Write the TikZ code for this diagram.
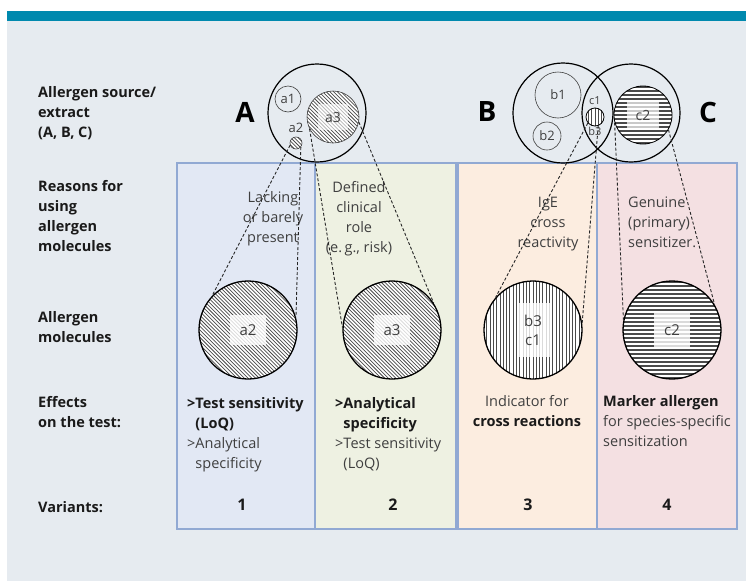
\documentclass[tikz,border=0pt]{standalone}
\usepackage{fontspec}
\setmainfont{Open Sans}

\definecolor{pageBg}{HTML}{E6EBF0}
\definecolor{barBlue}{HTML}{0089AE}
\definecolor{frameBlue}{HTML}{91A9D3}
\definecolor{varOne}{HTML}{E2E8F4}
\definecolor{varTwo}{HTML}{EEF1E2}
\definecolor{varThree}{HTML}{FCEDE0}
\definecolor{varFour}{HTML}{F4E0E2}
\definecolor{inkDark}{HTML}{1A1A1A}
\definecolor{inkGrey}{HTML}{3F3F3F}
\definecolor{hatchInk}{HTML}{4A4A4A}

\begin{document}
\begin{tikzpicture}
[x=1pt,y=-1pt,
  rowLabel/.style={anchor=north west,align=left,inner sep=0pt,text=inkDark,
    font=\bfseries\fontsize{14.5}{20}\selectfont},
  colText/.style={anchor=north,align=center,inner sep=0pt,text=inkGrey,
    font=\fontsize{14.5}{20}\selectfont},
  bigLetter/.style={inner sep=0pt,text=black,font=\bfseries\fontsize{28}{28}\selectfont},
  colFrame/.style={draw=frameBlue,line width=1.1pt},
  outerRing/.style={shape=circle,draw=black,line width=1.2pt,inner sep=0pt,minimum size=98pt},
  thinRing/.style={shape=circle,draw=inkGrey,line width=0.6pt,inner sep=0pt,text=inkGrey,
    font=\fontsize{13}{13}\selectfont},
  %% stripes are drawn inside each circle and clipped by it
  hatchDiag/.style={shape=circle,draw=inkGrey,line width=0.6pt,inner sep=0pt,fill=white,
    path picture={\foreach \k in {-30,...,30}
      \draw[hatchInk,line width=0.75pt]
        ([shift={(-80pt,80pt+\k*3.7pt)}]path picture bounding box.center) --
        ([shift={(80pt,-80pt+\k*3.7pt)}]path picture bounding box.center);}},
  hatchVert/.style={shape=circle,draw=black,line width=0.8pt,inner sep=0pt,fill=white,
    path picture={\foreach \k in {-20,...,20}
      \draw[hatchInk,line width=1pt]
        ([shift={(\k*3.3pt,-60pt)}]path picture bounding box.center) --
        ([shift={(\k*3.3pt,60pt)}]path picture bounding box.center);}},
  hatchHoriz/.style={shape=circle,draw=black,line width=0.8pt,inner sep=0pt,fill=white,
    path picture={\foreach \k in {-16,...,16}
      \draw[hatchInk,line width=1.3pt]
        ([shift={(-60pt,\k*4pt)}]path picture bounding box.center) --
        ([shift={(60pt,\k*4pt)}]path picture bounding box.center);}},
  moleculeRing/.style={line width=1.3pt,draw=black,minimum size=98pt},
  labelBox/.style={fill=white,fill opacity=0.8,text opacity=1,text=inkGrey,inner sep=0pt,
    minimum width=36pt,minimum height=30pt,align=center,font=\fontsize{15}{19}\selectfont},
  tinyText/.style={inner sep=0pt,text=inkGrey,font=\fontsize{11}{11}\selectfont},
  dashLine/.style={-,draw=black!85,line width=0.9pt,dash pattern=on 3pt off 2pt}]
\useasboundingbox (0,0) rectangle (746,581);
%% page and header bar
\fill[white] (0,0) rectangle (746,581);
\fill[pageBg] (7,21) rectangle (746,581);
\fill[barBlue] (7,11) rectangle (746,21);

%% columns of the four variants
\foreach \xa/\xb/\shade in {
  177/315/varOne, 315/456/varTwo, 458/597/varThree, 597/737/varFour}
{
  \draw[colFrame,fill=\shade] (\xa,163) rectangle (\xb,529);
}

%% row labels
\node (rowSource) at (38,86) [rowLabel] {Allergen source/\\extract\\(A, B, C)};
\node (rowReasons) at (38,180) [rowLabel] {Reasons for\\using\\allergen\\molecules};
\node (rowMolecules) at (38,311) [rowLabel] {Allergen\\molecules};
\node (rowEffects) at (38,396) [rowLabel] {Effects\\on the test:};
\node (rowVariants) at (38,501) [rowLabel] {Variants:};

%% allergen sources
\node (letA) at (245,112) [bigLetter] {A};
\node (letB) at (487,112) [bigLetter] {B};
\node (letC) at (708,112) [bigLetter] {C};
\node (srcA) at (317,113) [outerRing] {};
\node (srcB) at (563,113) [outerRing,minimum size=100pt] {};
\node (srcC) at (631,113) [outerRing] {};

\node (a1) at (288,99) [thinRing,minimum size=26pt] {a1};
\node (a3s) at (333,117) [hatchDiag,minimum size=52pt] {};
\node (a3sLbl) at (a3s) [labelBox,minimum width=30pt,minimum height=26pt,fill opacity=0.6,
  font=\fontsize{14}{14}\selectfont] {a3};
\node (a2s) at (296,143) [hatchDiag,minimum size=12pt] {};
\node (a2sLbl) at (296,128) [tinyText,font=\fontsize{13}{13}\selectfont] {a2};

\node (b1) at (558,95) [thinRing,minimum size=46pt] {b1};
\node (b2) at (547,136) [thinRing,minimum size=28pt] {b2};
\node (bcs) at (595,117) [hatchVert,minimum size=18pt] {};
\node (c1Lbl) at (595,101) [tinyText] {c1};
\node (b3Lbl) at (595,131) [tinyText] {b3};
\node (c2s) at (643,115) [hatchHoriz,minimum size=58pt] {};
\node (c2sLbl) at (c2s) [labelBox,minimum width=32pt,minimum height=28pt,fill opacity=0.7,
  font=\fontsize{14}{14}\selectfont] {c2};

%% reasons
\node (whyOne) at (273,191) [colText] {Lacking\\or barely\\present};
\node (whyTwo) at (359,181) [colText] {Defined\\clinical\\role\\(e.\,g., risk)};
\node (whyThree) at (548,197) [colText] {IgE\\cross\\reactivity};
\node (whyFour) at (628,197) [colText,anchor=north west,align=left] {Genuine\\(primary)\\sensitizer.};

%% allergen molecules
\node (a2m) at (248,330) [hatchDiag,moleculeRing] {};
\node (a3m) at (392,330) [hatchDiag,moleculeRing] {};
\node (bcm) at (533,330) [hatchVert,moleculeRing] {};
\node (c2m) at (672,330) [hatchHoriz,moleculeRing] {};
\node (a2mLbl) at (a2m) [labelBox] {a2};
\node (a3mLbl) at (a3m) [labelBox] {a3};
\node (bcmLbl) at (bcm) [labelBox,minimum width=33pt,minimum height=54pt] {b3\\c1};
\node (c2mLbl) at (c2m) [labelBox,minimum height=34pt] {c2};

%% zoom lines from source to molecule
\path
\foreach \startnode/\endnode in {
  a2s.200/a2m.136, a2s.320/a2m.15, a3s.207/a3m.177, a3s.349/a3m.33,
  bcs.220/bcm.139, bcs.290/bcm.8, c2s.195/c2m.168, c2s.330/c2m.31}
{
  (\startnode) edge[dashLine] (\endnode)
};

%% effects on the test
\node (effOne) at (187,397) [colText,anchor=north west,align=left]
  {\textbf{\textcolor{inkDark}{>Test sensitivity}}\\
   \textbf{\textcolor{inkDark}{\phantom{>}(LoQ)}}\\
   >Analytical\\\phantom{>}specificity};
\node (effTwo) at (335,397) [colText,anchor=north west,align=left]
  {\textbf{\textcolor{inkDark}{>Analytical}}\\
   \textbf{\textcolor{inkDark}{\phantom{>}specificity}}\\
   >Test sensitivity\\\phantom{>}(LoQ)};
\node (effThree) at (527,395) [colText]
  {Indicator for\\\textbf{\textcolor{inkDark}{cross reactions}}};
\node (effFour) at (603,395) [colText,anchor=north west,align=left]
  {\textbf{\textcolor{inkDark}{Marker allergen}}\\for species-specific\\sensitization};

%% variant numbers
\foreach \nodename/\x in {1/242, 2/393, 3/528, 4/667}
{
  \node (var\nodename) at (\x,505) [inner sep=0pt,text=inkDark,
    font=\bfseries\fontsize{16}{16}\selectfont] {\nodename};
}
\end{tikzpicture}
\end{document}
